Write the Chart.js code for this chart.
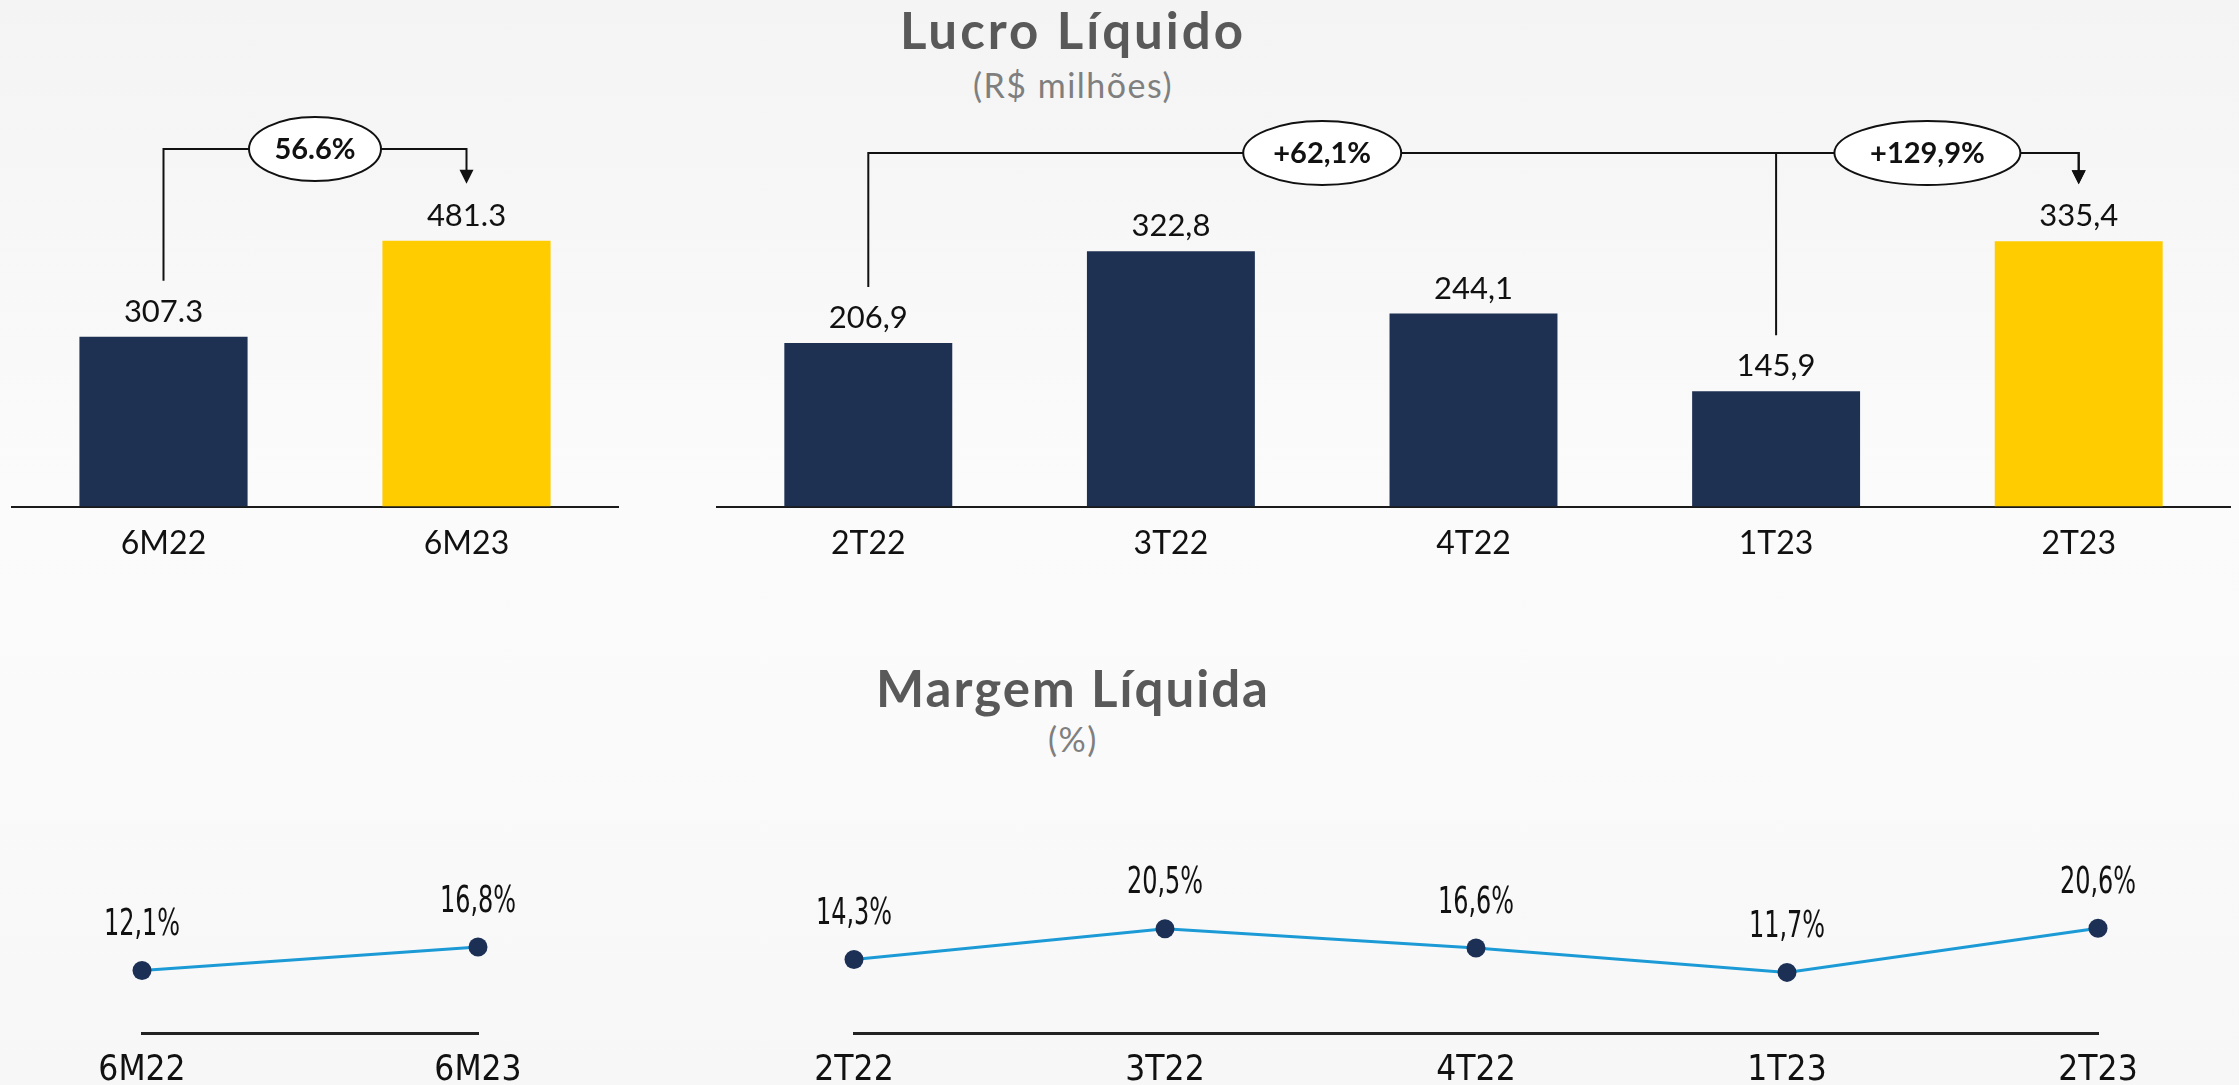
<!DOCTYPE html>
<html lang="pt-BR">
<head>
<meta charset="utf-8">
<title>Lucro Líquido e Margem Líquida</title>
<script src="https://cdn.jsdelivr.net/npm/chart.js@4.4.0/dist/chart.umd.min.js"></script>
<style>
html, body { margin: 0; padding: 0; }
body {
    width: 2239px;
    height: 1085px;
    overflow: hidden;
    position: relative;
    font-family: Lato, sans-serif;
    background: linear-gradient(180deg, #f4f4f5 0%, #f7f7f8 20%, #fbfbfb 45%, #fafafa 70%, #f7f7f8 100%);
}
canvas { position: absolute; }
.titulo {
    position: absolute;
    left: 0;
    width: 2146px;
    text-align: center;
    line-height: 1;
    white-space: nowrap;
}
.principal { color: #595959; font-weight: bold; }
.unidade { color: #7f7f7f; font-size: 34px; letter-spacing: 1.5px; }
</style>
</head>
<body>

<div class="titulo principal" style="top: 4px; font-size: 51px; letter-spacing: 3px;">Lucro Líquido</div>
<div class="titulo unidade" style="top: 68px;">(R$ milhões)</div>
<div class="titulo principal" style="top: 662px; font-size: 51px; letter-spacing: 2px;">Margem Líquida</div>
<div class="titulo unidade" style="top: 722px;">(%)</div>

<canvas id="lucro-semestre" width="660" height="585" style="left: 0; top: 0;"></canvas>
<canvas id="lucro-trimestre" width="1559" height="585" style="left: 680px; top: 0;"></canvas>
<canvas id="margem-semestre" width="640" height="269" style="left: 0; top: 840px;"></canvas>
<canvas id="margem-trimestre" width="1539" height="269" style="left: 700px; top: 840px;"></canvas>

<script>
var categoriasSemestre = ['6M22', '6M23'];
var lucroSemestre = [307.3, 481.3];
var variacaoSemestre = ['56.6%'];

var categoriasTrimestre = ['2T22', '3T22', '4T22', '1T23', '2T23'];
var lucroTrimestre = [206.9, 322.8, 244.1, 145.9, 335.4];
var variacaoTrimestre = ['+62,1%', '+129,9%'];

var margemSemestre = [12.1, 16.8];
var margemTrimestre = [14.3, 20.5, 16.6, 11.7, 20.6];

var azul = '#1f3153';
var amarelo = '#ffcc00';
var linhaAzul = '#1b9ad6';
var pontoAzul = '#1c2f55';
var fonteNormal = 'Lato, sans-serif';
var fonteEstreita = '"Liberation Sans Narrow", "DejaVu Sans Condensed", sans-serif';

function cores(n) {
    var c = [];
    for (var i = 0; i < n; i++) c.push(i == n - 1 ? amarelo : azul);
    return c;
}

// numero em cima de cada barra / ponto (aperto = escala horizontal do texto)
function rotulos(fonte, distancia, decimal, sufixo, aperto) {
    return {
        id: 'rotulos',
        afterDatasetsDraw: function(chart) {
            var ctx = chart.ctx;
            var meta = chart.getDatasetMeta(0);
            var valores = chart.data.datasets[0].data;
            meta.data.forEach(function(el, i) {
                var txt = valores[i].toFixed(1).replace('.', decimal) + sufixo;
                ctx.save();
                ctx.font = fonte;
                ctx.fillStyle = '#111111';
                ctx.textAlign = 'center';
                ctx.textBaseline = 'middle';
                ctx.translate(el.x, el.y - distancia);
                ctx.scale(aperto, 1);
                ctx.fillText(txt, 0, 0);
                ctx.restore();
            });
        }
    };
}

// chaves de variacao com a elipse
function chaves(itens, alturaLinha) {
    return {
        id: 'chaves',
        afterDraw: function(chart) {
            var ctx = chart.ctx;
            var meta = chart.getDatasetMeta(0);
            ctx.save();
            ctx.strokeStyle = '#111111';
            ctx.fillStyle = '#111111';
            ctx.lineWidth = 2;
            itens.forEach(function(c) {
                var a = meta.data[c.de], b = meta.data[c.ate];
                var ponta = b.y - 57;
                ctx.beginPath();
                ctx.moveTo(a.x, a.y - 56);
                ctx.lineTo(a.x, alturaLinha);
                ctx.lineTo(b.x, alturaLinha);
                ctx.lineTo(b.x, ponta - 12);
                ctx.stroke();
                ctx.beginPath();
                ctx.moveTo(b.x - 7, ponta - 14);
                ctx.lineTo(b.x + 7, ponta - 14);
                ctx.lineTo(b.x, ponta);
                ctx.closePath();
                ctx.fill();
            });
            itens.forEach(function(c) {
                var a = meta.data[c.meio[0]], b = meta.data[c.meio[1]];
                var cx = (a.x + b.x) / 2;
                ctx.beginPath();
                ctx.ellipse(cx, alturaLinha, c.rx, 32, 0, 0, Math.PI * 2);
                ctx.fillStyle = '#ffffff';
                ctx.fill();
                ctx.stroke();
                ctx.fillStyle = '#111111';
                ctx.font = 'bold 29px ' + fonteNormal;
                ctx.textAlign = 'center';
                ctx.textBaseline = 'middle';
                ctx.fillText(c.texto, cx, alturaLinha + 1);
            });
            ctx.restore();
        }
    };
}

function configBarras(categorias, valores, maximo, padEsq, padDir, extras) {
    return {
        type: 'bar',
        data: {
            labels: categorias,
            datasets: [{
                data: valores,
                backgroundColor: cores(valores.length),
                categoryPercentage: 1,
                barPercentage: 0.555
            }]
        },
        options: {
            responsive: false,
            animation: false,
            layout: { padding: { left: padEsq, right: padDir, top: 100, bottom: 4 } },
            plugins: { legend: { display: false }, tooltip: { enabled: false } },
            scales: {
                x: {
                    grid: { display: false, drawTicks: false },
                    border: { color: '#1a1a1a', width: 2 },
                    ticks: { color: '#111111', padding: 18, font: { family: fonteNormal, size: 32 } }
                },
                y: { display: false, min: 0, max: maximo }
            }
        },
        plugins: extras
    };
}

function configLinha(categorias, valores, padEsq, padDir) {
    return {
        type: 'line',
        data: {
            labels: categorias,
            datasets: [{
                data: valores,
                borderColor: linhaAzul,
                borderWidth: 3,
                pointRadius: 9.5,
                pointBackgroundColor: pontoAzul,
                pointBorderColor: pontoAzul,
                pointBorderWidth: 0,
                tension: 0,
                clip: false
            }]
        },
        options: {
            responsive: false,
            animation: false,
            layout: { padding: { left: padEsq, right: padDir, top: 44, bottom: 0 } },
            plugins: { legend: { display: false }, tooltip: { enabled: false } },
            scales: {
                x: {
                    offset: false,
                    grid: { display: false, drawTicks: false },
                    border: { color: '#222222', width: 3 },
                    ticks: { color: '#111111', padding: 17, font: { family: fonteEstreita, size: 35 } }
                },
                y: { display: false, min: -0.5, max: 29.5 }
            }
        },
        plugins: [rotulos('37px ' + fonteEstreita, 45, ',', '%', 0.72)]
    };
}

window.onload = function() {
    var ctx1 = document.getElementById('lucro-semestre').getContext('2d');
    window.lucroSem = new Chart(ctx1, configBarras(categoriasSemestre, lucroSemestre, 736, 12, 42, [
        rotulos('31px ' + fonteNormal, 25, '.', '', 1),
        chaves([{ de: 0, ate: 1, meio: [0, 1], rx: 66, texto: variacaoSemestre[0] }], 149)
    ]));

    var ctx2 = document.getElementById('lucro-trimestre').getContext('2d');
    window.lucroTri = new Chart(ctx2, configBarras(categoriasTrimestre, lucroTrimestre, 514, 37, 9, [
        rotulos('31px ' + fonteNormal, 25, ',', '', 1),
        chaves([
            { de: 0, ate: 4, meio: [0, 3], rx: 79, texto: variacaoTrimestre[0] },
            { de: 3, ate: 4, meio: [3, 4], rx: 93, texto: variacaoTrimestre[1] }
        ], 153)
    ]));

    var ctx3 = document.getElementById('margem-semestre').getContext('2d');
    window.margemSem = new Chart(ctx3, configLinha(categoriasSemestre, margemSemestre, 142, 162));

    var ctx4 = document.getElementById('margem-trimestre').getContext('2d');
    window.margemTri = new Chart(ctx4, configLinha(categoriasTrimestre, margemTrimestre, 154, 141));
};
</script>
</body>
</html>
